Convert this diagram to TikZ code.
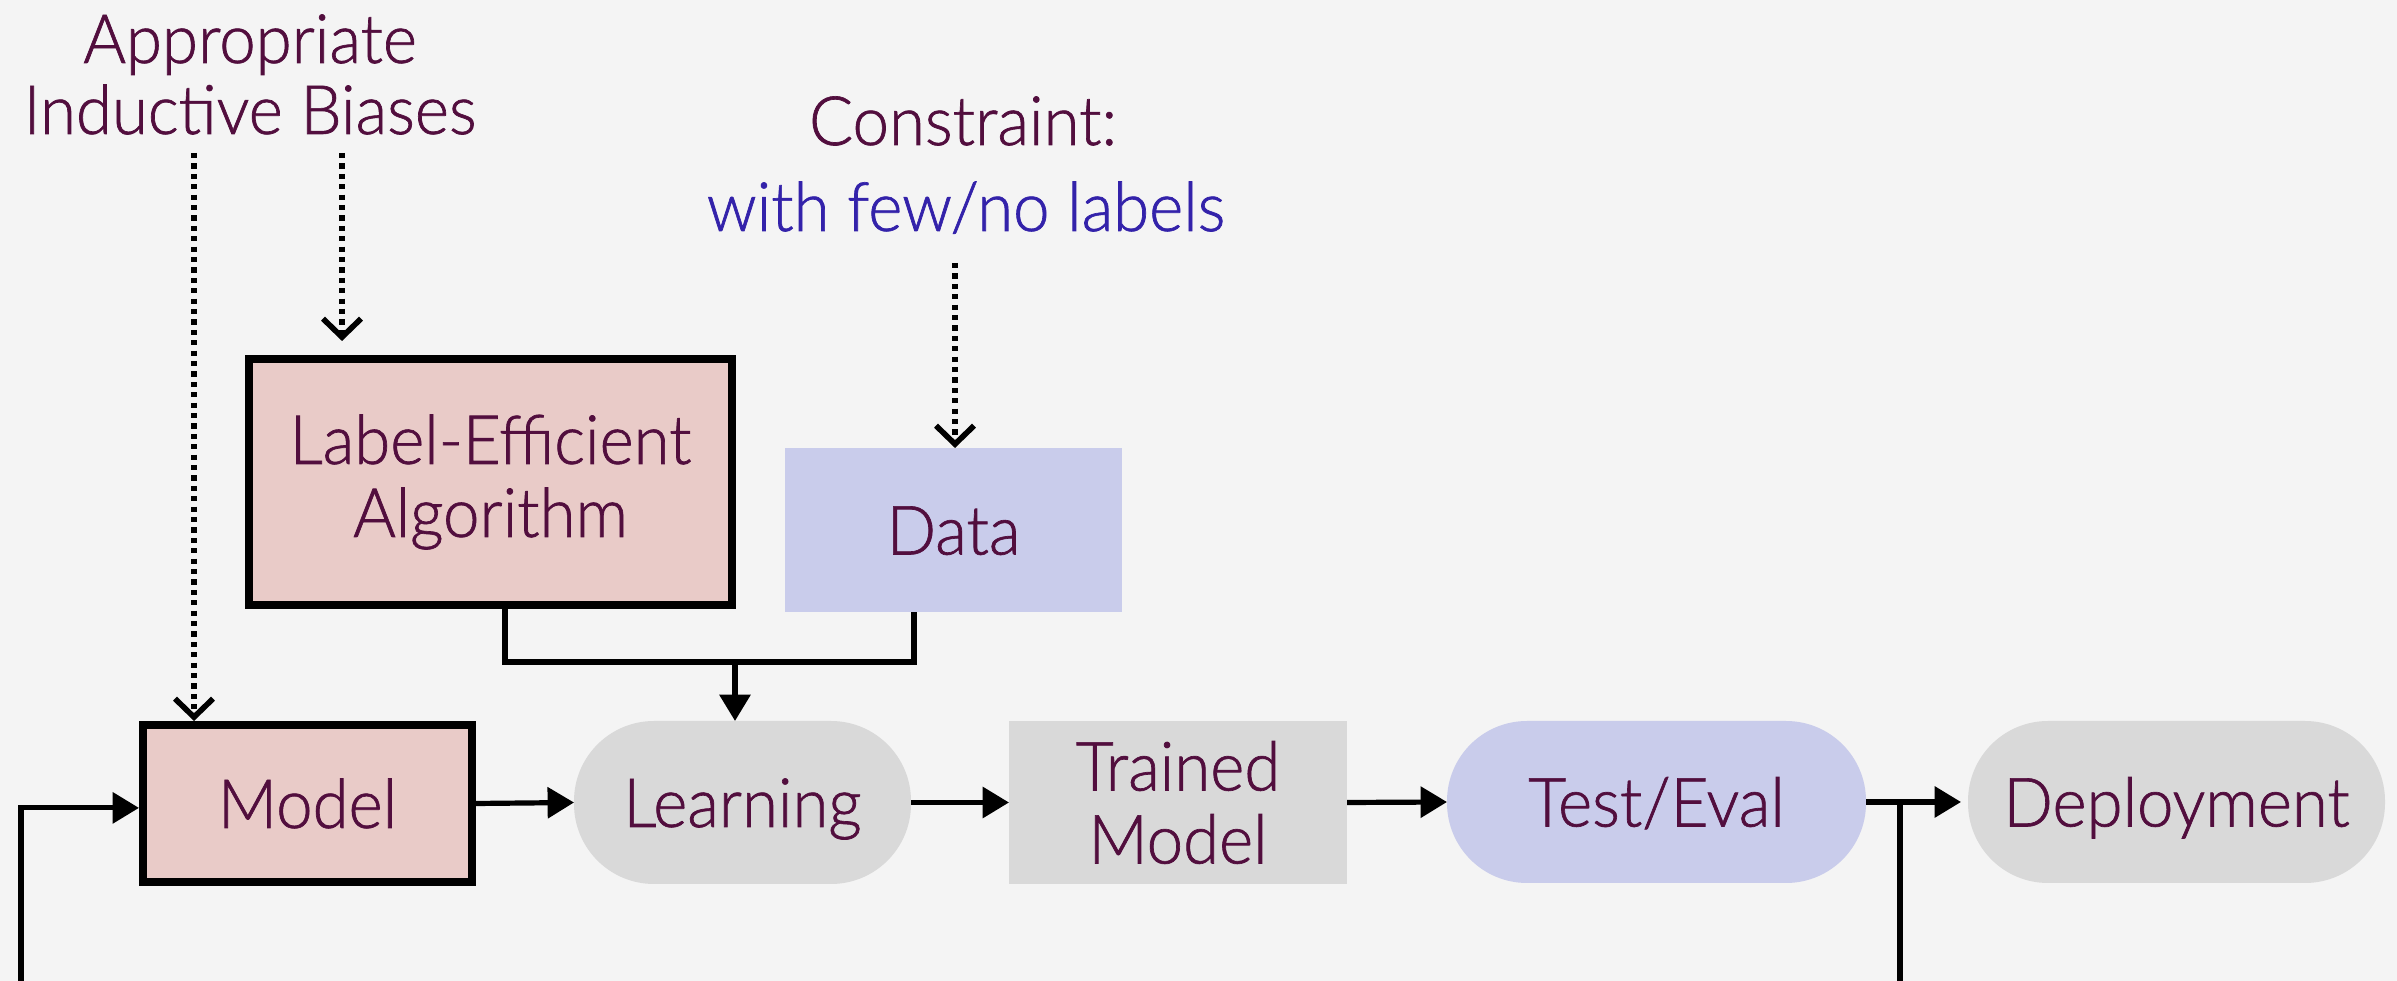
\documentclass[tikz,border=0pt]{standalone}
\usepackage{fontspec}
\setmainfont{Lato}[UprightFont=* Light, FakeStretch=0.96, FakeBold=1]
\usetikzlibrary{arrows.meta,calc}

\definecolor{bgc}{HTML}{F4F4F4}
\definecolor{ink}{HTML}{520E3E}
\definecolor{inkblue}{HTML}{3322AA}
\definecolor{pinkc}{HTML}{E9CBC8}
\definecolor{lavc}{HTML}{C9CCEB}
\definecolor{grayc}{HTML}{D9D9D9}

\begin{document}
\begin{tikzpicture}[x=0.25pt,y=-0.25pt,
  every node/.style={font=\fontsize{17}{18.25}\selectfont, text=ink, inner sep=0pt},
  label/.style={anchor=base},
  boldbox/.style={draw=black, line width=2pt, fill=pinkc, align=center},
  flatbox/.style={fill=#1, align=center, outer sep=0pt},
  pill/.style={fill=#1, rounded corners=20pt, align=center, outer sep=0pt},
  single/.style={text height=12.25pt, text depth=0pt},
  conn/.style={line width=1.3pt, draw=black},
  arr/.style={conn, -{Triangle[length=6.6pt,width=7.6pt]}},
  dotarr/.style={draw=black, line width=1.4pt, dash pattern=on 1.3pt off 1.3pt,
    -{Straight Barb[length=4.6pt,width=9.5pt]}}
]
% canvas
\useasboundingbox (0,0) rectangle (2397,981);
\fill[bgc] (0,0) rectangle (2397,981);

% annotations
\node[label] (apt1) at (250,63) {Appropriate};
\node[label] (apt2) at (250,134) {Inductive Biases};
\node[label] (con1) at (963,145) {Constraint:};
\node[label, text=inkblue] (con2) at (966,231) {with few/no labels};

% upper boxes
\node[boldbox, minimum width=120.75pt, minimum height=61.5pt] (lea) at (490.5,482)
  {Label-Efficient\\Algorithm};
\node[flatbox=lavc, single, minimum width=84.25pt, minimum height=41pt] (data) at (953.5,530) {Data};

% pipeline
\node[boldbox, single, minimum width=82.25pt, minimum height=39.25pt] (model) at (307.5,803.5) {Model};
\node[pill=grayc, single, minimum width=84.25pt, minimum height=40.75pt] (learn) at (742.5,802.5) {Learning};
\node[flatbox=grayc, minimum width=84.5pt, minimum height=40.75pt] (trained) at (1178,802.5) {Trained\\Model};
\node[pill=lavc, single, minimum width=104.75pt, minimum height=40.5pt] (test) at (1656.5,802) {Test/Eval};
\node[pill=grayc, single, minimum width=104.25pt, minimum height=40.5pt] (deploy) at (2176.5,802) {Deployment};

% dotted influences
\coordinate (ibA) at (194,153);
\coordinate (ibB) at (342,153);
\coordinate (cst) at (955,263);
\draw[dotarr] (ibA) -- (model.north -| ibA);
\draw[dotarr, shorten >=3.5pt] (ibB) -- (lea.north -| ibB);
\draw[dotarr] (cst) -- (data.north -| cst);

% algorithm + data feed learning
\coordinate (lx) at (505,0);
\coordinate (dx) at (914,0);
\coordinate (jn) at (735,662);
\draw[conn] (lea.south -| lx) |- (jn) -| (data.south -| dx);
\draw[arr] (jn) -- (learn.north -| jn);

% main flow
\draw[arr] (model.east) -- (learn.west);
\draw[arr] (learn.east) -- (trained.west);
\draw[arr] (trained.east) -- (test.west);
\draw[arr, shorten >=1.75pt] (test.east) -- (deploy.west);

% feedback loop
\coordinate (fbR) at (1900,802);
\coordinate (fbRb) at (1900,981);
\coordinate (fbLb) at (21,981);
\draw[conn] (fbR) -- (fbRb);
\draw[arr] (fbLb) |- ([yshift=-1.1pt]model.west);
\end{tikzpicture}
\end{document}
